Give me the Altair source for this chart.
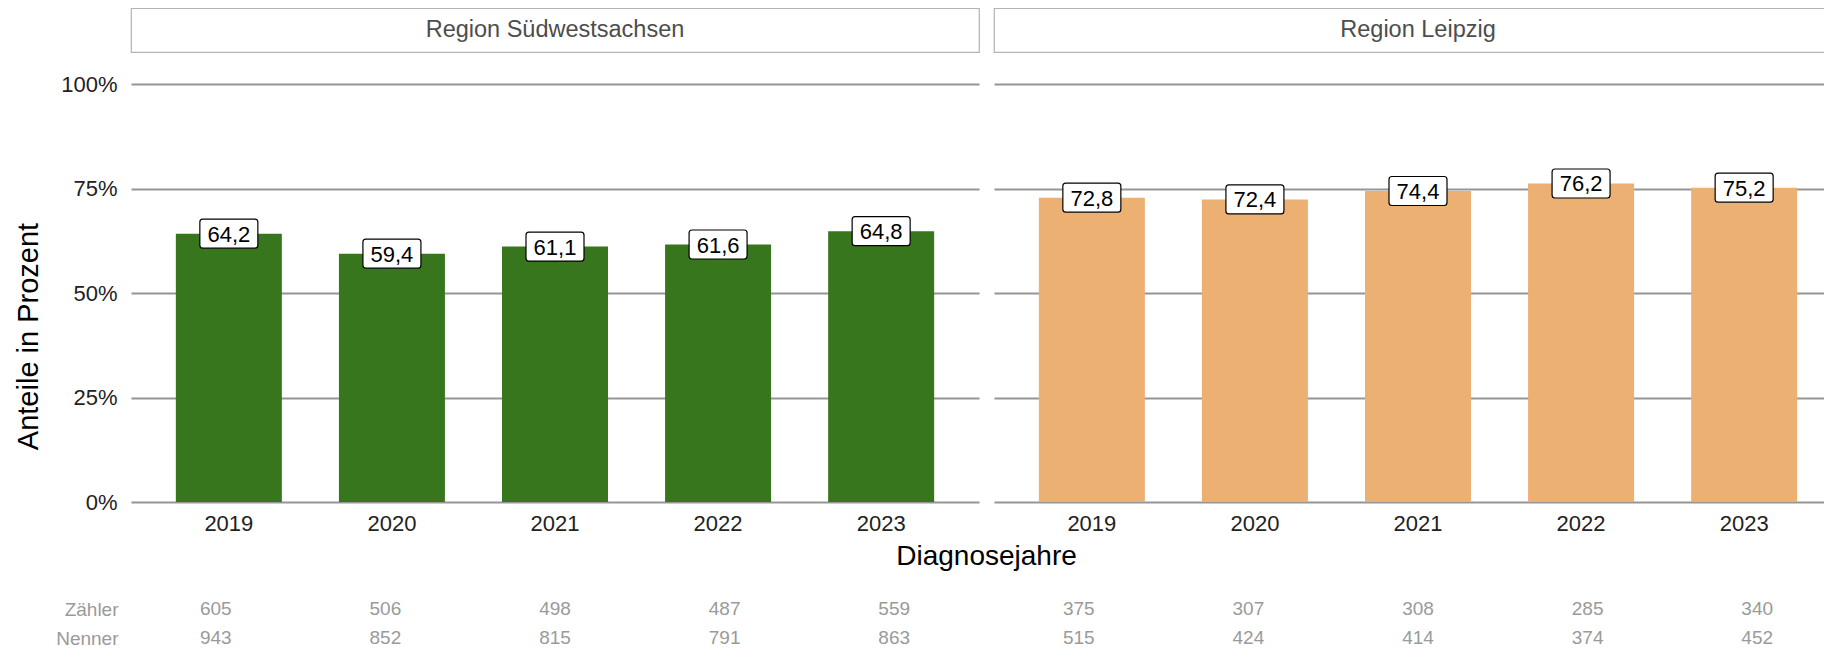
import altair as alt
import pandas as pd

# ---------------- data ----------------
years = ["2019", "2020", "2021", "2022", "2023"]
regions = ["Region Südwestsachsen", "Region Leipzig"]
anteil_sw = [64.2, 59.4, 61.1, 61.6, 64.8]
anteil_le = [72.8, 72.4, 74.4, 76.2, 75.2]
zaehler_sw = [605, 506, 498, 487, 559]
nenner_sw = [943, 852, 815, 791, 863]
zaehler_le = [375, 307, 308, 285, 340]
nenner_le = [515, 424, 414, 374, 452]
bar_colors = ["#38761d", "#ecb073"]
y_ticks = [0, 0.25, 0.5, 0.75, 1.0]
table_rows = ["Zähler", "Nenner"]

# ---------------- style ----------------
FONT = "Liberation Sans"
PW = 848          # panel width
PH = 450          # panel height
STRIP_H = 44
TABLE_H = 136
TABLE_TOP = -3.69  # headroom above the first table row
Y_MAX = 1.0766    # headroom above 100 %
GRID = "#959595"
LABEL_BOX = ("M -0.9,-0.5 L 0.9,-0.5 Q 1,-0.5 1,-0.4 L 1,0.4 Q 1,0.5 0.9,0.5 "
             "L -0.9,0.5 Q -1,0.5 -1,0.4 L -1,-0.4 Q -1,-0.5 -0.9,-0.5 Z")

xscale = alt.Scale(domain=years, paddingInner=0.35, paddingOuter=0.275)


def bar_df(vals):
    return pd.DataFrame({
        "year": years,
        "anteil": [v / 100 for v in vals],
        "label": [f"{v:.1f}".replace(".", ",") for v in vals],
    })


def table_df(z, n):
    rows = []
    for y, zv, nv in zip(years, z, n):
        rows.append({"year": y, "row": 0, "value": str(zv)})
        rows.append({"year": y, "row": 1, "value": str(nv)})
    return pd.DataFrame(rows)


def strip(name):
    return alt.Chart(pd.DataFrame({"label": [name]})).mark_text(
        font=FONT, fontSize=23.5, color="#4d4d4d", baseline="middle"
    ).encode(text="label:N").properties(
        width=PW, height=STRIP_H,
        view=alt.ViewBackground(stroke="#b3b3b3", strokeWidth=1.2, fill="white"),
    )


def bars(vals, color, left):
    df = bar_df(vals)
    if left:
        yaxis = alt.Axis(values=y_ticks, format=".0%", grid=True, gridColor=GRID,
                         gridWidth=2.2, domain=False, ticks=False, tickSize=0,
                         labelFont=FONT, labelFontSize=22, labelColor="#222222",
                         labelPadding=14, title="Anteile in Prozent", titleFont=FONT,
                         titleFontSize=29, titleFontWeight="normal", titleColor="black",
                         titlePadding=17, titleY=284)
        xaxis = alt.Axis(labelAngle=0, domain=False, ticks=False, tickSize=0,
                         labelFont=FONT, labelFontSize=22, labelColor="#222222",
                         labelPadding=11, title="Diagnosejahre", titleFont=FONT,
                         titleFontSize=28, titleFontWeight="normal", titleColor="black",
                         titleX=855, titleY=62, titleAlign="center",
                         titleBaseline="alphabetic")
    else:
        yaxis = alt.Axis(values=y_ticks, grid=True, gridColor=GRID, gridWidth=2.2,
                         domain=False, ticks=False, tickSize=0, labels=False, title=None)
        xaxis = alt.Axis(labelAngle=0, domain=False, ticks=False, tickSize=0,
                         labelFont=FONT, labelFontSize=22, labelColor="#222222",
                         labelPadding=11, title=None)
    yscale = alt.Scale(domain=[0, Y_MAX], nice=False, zero=True)
    base = alt.Chart(df).encode(
        x=alt.X("year:N", sort=years, scale=xscale, axis=xaxis),
        y=alt.Y("anteil:Q", scale=yscale, axis=yaxis),
    )
    b = base.mark_bar(color=color)
    box = base.mark_point(shape=LABEL_BOX, size=3364, filled=True, fill="white",
                          stroke="black", strokeWidth=1.2, opacity=1,
                          fillOpacity=1, strokeOpacity=1)
    txt = base.mark_text(font=FONT, fontSize=22, color="black", baseline="middle",
                         dy=1).encode(text="label:N")
    return alt.layer(b, box, txt).properties(width=PW, height=PH)


def table(z, n, left):
    df = table_df(z, n)
    label_expr = f"datum.value == 0 ? '{table_rows[0]}' : '{table_rows[1]}'"
    if left:
        yaxis = alt.Axis(values=[0, 1], labelExpr=label_expr, domain=False,
                         ticks=False, tickSize=0, grid=False,
                         labelFont=FONT, labelFontSize=19, labelColor="#9a9a9a",
                         labelPadding=13, title=None)
    else:
        yaxis = None
    return alt.Chart(df).mark_text(font=FONT, fontSize=19, color="#9a9a9a",
                                   baseline="middle").encode(
        x=alt.X("year:N", sort=years, scale=xscale, axis=None),
        y=alt.Y("row:Q", scale=alt.Scale(domain=[TABLE_TOP, 1], reverse=True,
                                          nice=False, zero=False),
                axis=yaxis),
        text="value:N",
    ).properties(width=PW, height=TABLE_H)


chart = alt.concat(
    strip(regions[0]), strip(regions[1]),
    bars(anteil_sw, bar_colors[0], True), bars(anteil_le, bar_colors[1], False),
    table(zaehler_sw, nenner_sw, True), table(zaehler_le, nenner_le, False),
    columns=2,
    spacing={"row": 0, "column": 15},
    bounds="flush",
).properties(
    padding={"left": 6, "top": -1, "right": -19, "bottom": 0},
    background="white",
).configure_view(stroke=None)

chart.save("out.html", embed_options={"renderer": "svg", "actions": False})
